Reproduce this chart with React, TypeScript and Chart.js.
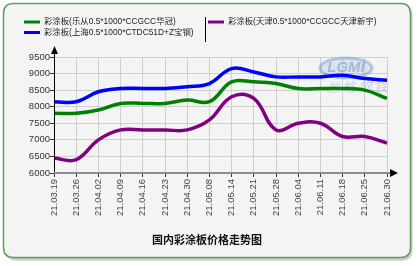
import React, { useEffect, useRef } from "react";
import { Chart, registerables } from "chart.js";

Chart.register(...registerables);

const labels = [
  "21.03.19", "21.03.26", "21.04.02", "21.04.09", "21.04.16", "21.04.23",
  "21.04.30", "21.05.08", "21.05.14", "21.05.21", "21.05.28", "21.06.04",
  "21.06.11", "21.06.18", "21.06.25", "21.06.30",
];

const lecong = [7800, 7800, 7900, 8100, 8100, 8100, 8200, 8150, 8750, 8750, 8700, 8550, 8550, 8550, 8500, 8250];
const shanghai = [8150, 8150, 8450, 8550, 8550, 8550, 8600, 8700, 9150, 9050, 8900, 8900, 8900, 8950, 8850, 8800];
const tianjin = [6450, 6400, 7000, 7300, 7300, 7300, 7300, 7600, 8300, 8250, 7300, 7500, 7500, 7100, 7100, 6900];

const seriesNames = [
  "彩涂板(乐从0.5*1000*CCGCC华冠)",
  "彩涂板(上海0.5*1000*CTDC51D+Z宝钢)",
  "彩涂板(天津0.5*1000*CCGCC天津新宇)",
];
const seriesColors = ["#008000", "#0000ff", "#800080"];
const titleText = "国内彩涂板价格走势图";

const FONT = '"Liberation Sans", "Noto Sans CJK SC", sans-serif';

const framePlugin = {
  id: "frame",
  beforeDraw(chart: any) {
    const ctx = chart.ctx;
    const rr = (x: number, y: number, w: number, h: number, r: number) => {
      ctx.beginPath();
      ctx.moveTo(x + r, y);
      ctx.lineTo(x + w - r, y);
      ctx.quadraticCurveTo(x + w, y, x + w, y + r);
      ctx.lineTo(x + w, y + h - r);
      ctx.quadraticCurveTo(x + w, y + h, x + w - r, y + h);
      ctx.lineTo(x + r, y + h);
      ctx.quadraticCurveTo(x, y + h, x, y + h - r);
      ctx.lineTo(x, y + r);
      ctx.quadraticCurveTo(x, y, x + r, y);
      ctx.closePath();
    };
    ctx.save();
    ctx.fillStyle = "#ffffff";
    ctx.fillRect(0, 0, chart.width, chart.height);
    ctx.fillStyle = "rgba(0,0,0,0.12)";
    rr(6, 6, 407, 255, 11);
    ctx.fill();
    ctx.fillStyle = "rgba(0,0,0,0.10)";
    rr(5, 5, 407, 255, 11);
    ctx.fill();
    ctx.fillStyle = "#f4f4f4";
    rr(3.5, 3.5, 407, 254, 10);
    ctx.fill();
    ctx.strokeStyle = "#5f9f57";
    ctx.lineWidth = 1.5;
    ctx.stroke();
    ctx.restore();
  },
  beforeDatasetsDraw(chart: any) {
    const ctx = chart.ctx;
    ctx.save();
    ctx.strokeStyle = "rgba(110,150,205,0.45)";
    ctx.fillStyle = "rgba(110,150,205,0.18)";
    ctx.lineWidth = 3;
    ctx.beginPath();
    ctx.ellipse(346, 68, 26, 10, 0, 0, Math.PI * 2);
    ctx.fill();
    ctx.stroke();
    ctx.fillStyle = "rgba(110,150,205,0.55)";
    ctx.font = 'bold italic 15px "Liberation Sans", sans-serif';
    ctx.textAlign = "center";
    ctx.textBaseline = "middle";
    ctx.fillText("LGMI", 346, 68);
    ctx.font = 'italic 13px "Noto Sans CJK SC", sans-serif';
    ctx.fillStyle = "rgba(110,150,205,0.35)";
    ctx.fillText("兰 格 钢 铁", 357, 87);
    ctx.restore();
  },
  afterDraw(chart: any) {
    const ctx = chart.ctx;
    const area = chart.chartArea;
    ctx.save();
    ctx.strokeStyle = "#000";
    ctx.lineWidth = 1;
    ctx.beginPath();
    ctx.moveTo(area.left + 0.5, area.bottom);
    ctx.lineTo(area.left + 0.5, area.top - 5);
    ctx.stroke();
    ctx.fillStyle = "#000";
    ctx.beginPath();
    ctx.moveTo(area.left + 0.5, area.top - 11);
    ctx.lineTo(area.left - 3, area.top - 3);
    ctx.lineTo(area.left + 4, area.top - 3);
    ctx.closePath();
    ctx.fill();
    ctx.strokeStyle = "#8c8c8c";
    ctx.lineWidth = 2;
    ctx.beginPath();
    ctx.moveTo(area.left, area.bottom);
    ctx.lineTo(area.right + 4, area.bottom);
    ctx.stroke();
    ctx.fillStyle = "#000";
    ctx.beginPath();
    ctx.moveTo(area.right + 11, area.bottom);
    ctx.lineTo(area.right + 3, area.bottom - 4);
    ctx.lineTo(area.right + 3, area.bottom + 4);
    ctx.closePath();
    ctx.fill();

    const ds = chart.data.datasets;
    const pos = [
      { x: 24, y: 22 },
      { x: 24, y: 32.5 },
      { x: 208, y: 22 },
    ];
    ctx.font = "8.4px " + FONT;
    ctx.textBaseline = "middle";
    ctx.textAlign = "left";
    ds.forEach((d: any, i: number) => {
      const p = pos[i];
      ctx.strokeStyle = d.borderColor;
      ctx.lineWidth = 3;
      ctx.beginPath();
      ctx.moveTo(p.x, p.y);
      ctx.lineTo(p.x + 16, p.y);
      ctx.stroke();
      ctx.fillStyle = "#222";
      ctx.fillText(d.label, p.x + 20, p.y);
    });
    ctx.strokeStyle = "#000";
    ctx.lineWidth = 1;
    ctx.beginPath();
    ctx.moveTo(205.5, 17);
    ctx.lineTo(205.5, 42);
    ctx.stroke();

    ctx.font = 'bold 11px "Noto Sans CJK SC", sans-serif';
    ctx.fillStyle = "#111";
    ctx.textAlign = "center";
    ctx.fillText(titleText, 207, 240);
    ctx.restore();
  },
};

export default function App() {
  const ref = useRef<HTMLCanvasElement | null>(null);
  useEffect(() => {
    if (!ref.current) return;
    const grid = {
      display: true,
      color: "#cfcfcf",
      lineWidth: 1,
      borderDash: [2, 2],
      dash: [2, 2],
      drawTicks: true,
      tickLength: 4,
      tickColor: "#333",
      tickBorderDash: [],
    };
    const chart = new Chart(ref.current, {
      type: "line",
      data: {
        labels,
        datasets: [lecong, shanghai, tianjin].map((data, i) => ({
          label: seriesNames[i],
          data,
          borderColor: seriesColors[i],
          backgroundColor: seriesColors[i],
          borderWidth: 3.5,
          pointRadius: 0,
          tension: 0.4,
          fill: false,
        })),
      },
      options: {
        animation: false,
        responsive: false,
        maintainAspectRatio: false,
        layout: { padding: { left: 0, right: 31, top: 57, bottom: 33 } },
        plugins: {
          legend: { display: false },
          title: { display: false },
          tooltip: { enabled: false },
        },
        scales: {
          x: {
            type: "category",
            offset: false,
            grid: grid as any,
            border: { display: false },
            ticks: {
              autoSkip: false,
              minRotation: 90,
              maxRotation: 90,
              padding: 2,
              color: "#444",
              font: { family: FONT, size: 9.5 },
            },
            afterFit: (s: any) => {
              s.height = 60;
            },
          },
          y: {
            min: 6000,
            max: 9500,
            grid: grid as any,
            border: { display: false },
            ticks: {
              stepSize: 500,
              padding: 0,
              color: "#333",
              font: { family: FONT, size: 9.5 },
              callback: (v: any) => String(v),
            },
            afterFit: (s: any) => {
              s.width = 54;
            },
          },
        },
      },
      plugins: [framePlugin],
    });
    return () => chart.destroy();
  }, []);
  return (
    <div style={{ position: "fixed", left: 0, top: 0, width: 418, height: 266 }}>
      <canvas ref={ref} width={418} height={266} style={{ width: 418, height: 266, display: "block" }} />
    </div>
  );
}
